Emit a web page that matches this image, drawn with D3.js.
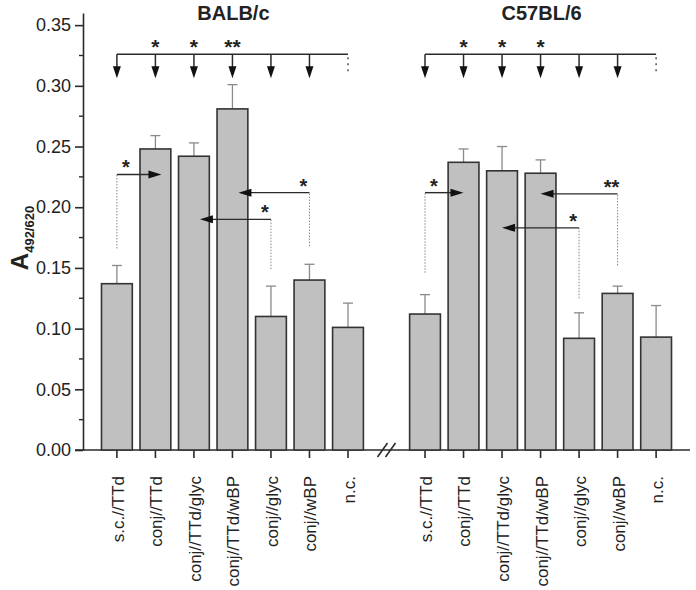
<!DOCTYPE html>
<html>
<head>
<meta charset="utf-8">
<script src="https://cdn.jsdelivr.net/npm/d3@7"></script>
<style>
body{margin:0;background:#fff;}
svg{display:block;font-family:Arial,"Liberation Sans",sans-serif;}
</style>
</head>
<body>
<svg id="chart" width="696" height="590"></svg>
<script>
// ---- data ----
const categories = ["s.c.//TTd","conj//TTd","conj//TTd/glyc","conj//TTd/wBP","conj//glyc","conj//wBP","n.c."];
const strains = ["BALB/c","C57BL/6"];
const balbMeans = [0.137,0.248,0.242,0.281,0.110,0.140,0.101];
const balbErr   = [0.015,0.011,0.011,0.020,0.025,0.013,0.020];
const c57Means  = [0.112,0.237,0.230,0.228,0.092,0.129,0.093];
const c57Err    = [0.016,0.011,0.020,0.011,0.021,0.006,0.026];
const yTicks = [0,0.05,0.10,0.15,0.20,0.25,0.30,0.35];
const yMinorTicks = [0.025,0.075,0.125,0.175,0.225,0.275,0.325];
// significance vs. bracket (top row)
const balbTopStars = ["","*","*","**","","",""];
const c57TopStars  = ["","*","*","*","","",""];
// pairwise comparisons: from group, to group, arrow level, dotted base level, label
const balbPairs = [
  {from:0,to:1,level:0.227,base:0.166,label:"*"},
  {from:4,to:2,level:0.190,base:0.149,label:"*"},
  {from:5,to:3,level:0.212,base:0.168,label:"*"}
];
const c57Pairs = [
  {from:0,to:1,level:0.212,base:0.146,label:"*"},
  {from:4,to:2,level:0.183,base:0.125,label:"*"},
  {from:5,to:3,level:0.211,base:0.152,label:"**"}
];
const bracketLevel = 0.326;

// ---- layout ----
const svg = d3.select("#chart");
const y = d3.scaleLinear().domain([0,0.36]).range([450, 13.0]);
const groups = [
  {name:strains[0], means:balbMeans, err:balbErr, stars:balbTopStars, pairs:balbPairs, offset:0},
  {name:strains[1], means:c57Means, err:c57Err, stars:c57TopStars, pairs:c57Pairs, offset:8}
];
// slot positions: 0..6 for BALB/c, 8..14 for C57BL/6, slot 7 = axis break
const x = d3.scaleLinear().domain([-0.88, 14.88]).range([83, 690]);
const slotW = x(1) - x(0);
const barW = slotW * 0.8;
const dark = "#2a2a2a";

// axes
const yAxis = d3.axisLeft(y).tickValues(yTicks).tickFormat(d3.format(".2f")).tickSize(8).tickSizeOuter(0);
const gy = svg.append("g").attr("transform",`translate(${x.range()[0]},0)`).call(yAxis);
gy.select(".domain").attr("stroke",dark).attr("stroke-width",1.6);
gy.selectAll(".tick line").attr("stroke",dark).attr("stroke-width",1.6);
gy.selectAll(".tick text").attr("font-size",18).attr("fill","#222").attr("x",-12).attr("font-family","Arial, Liberation Sans, sans-serif");
svg.append("g").attr("transform",`translate(${x.range()[0]},0)`)
  .selectAll("line").data(yMinorTicks).join("line")
  .attr("x1",-4).attr("x2",0).attr("y1",d=>y(d)).attr("y2",d=>y(d))
  .attr("stroke",dark).attr("stroke-width",1.4);

// x axis line
svg.append("line").attr("x1",x.range()[0]-8).attr("x2",x.range()[1]).attr("y1",y(0)).attr("y2",y(0))
  .attr("stroke",dark).attr("stroke-width",1.6);

groups.forEach(g=>{
  const gx = i => x(i + g.offset);
  // x ticks
  svg.append("g").selectAll("line").data(categories).join("line")
    .attr("x1",(d,i)=>gx(i)).attr("x2",(d,i)=>gx(i)).attr("y1",y(0)).attr("y2",y(0)+8)
    .attr("stroke",dark).attr("stroke-width",1.6);
  // x labels
  svg.append("g").selectAll("text").data(categories).join("text")
    .attr("transform",(d,i)=>`translate(${gx(i)+1},476) rotate(-90)`)
    .attr("text-anchor","end").attr("dy","0.35em")
    .attr("font-size",17).attr("fill","#222").text(d=>d);
  // error bars (upper only)
  const eb = svg.append("g").attr("stroke","#8a8a8a").attr("stroke-width",1.3);
  eb.selectAll("line.v").data(g.means).join("line").attr("class","v")
    .attr("x1",(d,i)=>gx(i)).attr("x2",(d,i)=>gx(i))
    .attr("y1",d=>y(d)).attr("y2",(d,i)=>y(d+g.err[i]));
  eb.selectAll("line.c").data(g.means).join("line").attr("class","c")
    .attr("x1",(d,i)=>gx(i)-5).attr("x2",(d,i)=>gx(i)+5)
    .attr("y1",(d,i)=>y(d+g.err[i])).attr("y2",(d,i)=>y(d+g.err[i]));
  // bars
  svg.append("g").selectAll("rect").data(g.means).join("rect")
    .attr("x",(d,i)=>gx(i)-barW/2).attr("width",barW)
    .attr("y",d=>y(d)).attr("height",d=>y(0)-y(d))
    .attr("fill","#c0c0c0").attr("stroke","#333").attr("stroke-width",1.6);
  // title
  svg.append("text").attr("x",(gx(0)+gx(6))/2 + 1).attr("y",20)
    .attr("text-anchor","middle").attr("font-size",20).attr("font-weight","bold").attr("fill","#222").text(g.name);

  // top bracket
  const by = y(bracketLevel);
  const ann = svg.append("g");
  ann.append("line").attr("x1",gx(0)).attr("x2",gx(6)).attr("y1",by).attr("y2",by)
    .attr("stroke",dark).attr("stroke-width",1.5);
  for(let i=0;i<6;i++){
    ann.append("line").attr("x1",gx(i)).attr("x2",gx(i)).attr("y1",by).attr("y2",by+14)
      .attr("stroke",dark).attr("stroke-width",1.5);
    ann.append("path").attr("d",`M${gx(i)-4},${by+12}L${gx(i)+4},${by+12}L${gx(i)},${by+24}Z`).attr("fill","#111");
    if(g.stars[i]) ann.append("text").attr("x",gx(i)).attr("y",by).attr("text-anchor","middle")
      .attr("font-size",21).attr("font-weight","bold").attr("fill","#222").text(g.stars[i]);
  }
  ann.append("line").attr("x1",gx(6)).attr("x2",gx(6)).attr("y1",by+3).attr("y2",by+21)
    .attr("stroke","#555").attr("stroke-width",1.5).attr("stroke-dasharray","2,4");

  // pairwise arrows
  g.pairs.forEach(p=>{
    const x0 = gx(p.from), x1 = gx(p.to) + (g.offset===0 ? 6 : 0);
    const ly = y(p.level);
    const dir = x1 > x0 ? 1 : -1;
    ann.append("line").attr("x1",x0).attr("x2",x0).attr("y1",y(p.base)).attr("y2",ly)
      .attr("stroke","#888").attr("stroke-width",1).attr("stroke-dasharray","1.5,1.5");
    ann.append("line").attr("x1",x0).attr("x2",x1 - dir*10).attr("y1",ly).attr("y2",ly)
      .attr("stroke",dark).attr("stroke-width",1.4);
    ann.append("path").attr("d",`M${x1},${ly}L${x1-dir*13},${ly-4}L${x1-dir*13},${ly+4}Z`).attr("fill","#111");
    const sx = dir>0 ? x0 + 9 : x0 - 6;
    ann.append("text").attr("x",sx).attr("y",ly).attr("text-anchor","middle")
      .attr("font-size",20).attr("font-weight","bold").attr("fill","#222").text(p.label);
  });
});

// axis break marks
const bx = x(7);
[-4,4].forEach(o=>{
  svg.append("line").attr("x1",bx+o-5).attr("x2",bx+o+5).attr("y1",y(0)+7).attr("y2",y(0)-7)
    .attr("stroke",dark).attr("stroke-width",1.6);
});

// y-axis title
const yt = svg.append("text").attr("transform","translate(28,238) rotate(-90)")
  .attr("text-anchor","middle").attr("font-weight","bold").attr("fill","#222");
yt.append("tspan").attr("font-size",24).text("A");
yt.append("tspan").attr("font-size",13).attr("dy",6).text("492/620");
</script>
</body>
</html>
